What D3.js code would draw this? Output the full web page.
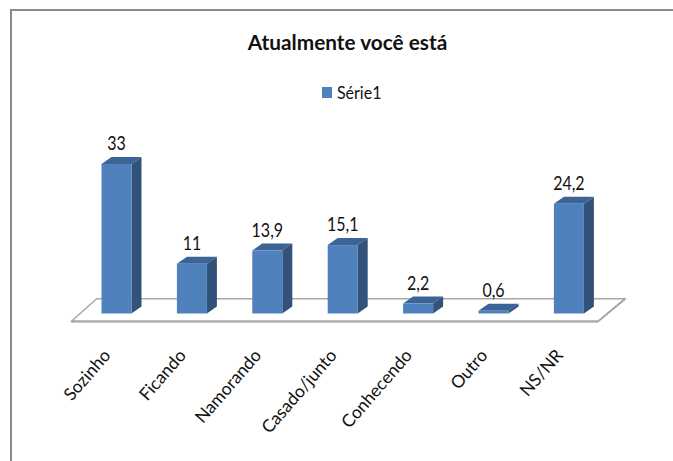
<!DOCTYPE html>
<html>
<head>
<meta charset="utf-8">
<script src="https://cdn.jsdelivr.net/npm/d3@7"></script>
<style>
  html, body { margin: 0; padding: 0; background: #fff; overflow: hidden; }
  text { font-family: Lato, "Open Sans", sans-serif; fill: #111; }
</style>
</head>
<body>
<div id="chart"></div>
<script>
// --- Data ---
const categories = ["Sozinho", "Ficando", "Namorando", "Casado/junto", "Conhecendo", "Outro", "NS/NR"];
const values = [33, 11, 13.9, 15.1, 2.2, 0.6, 24.2];
const valueLabels = ["33", "11", "13,9", "15,1", "2,2", "0,6", "24,2"];
const seriesName = "Série1";

const width = 673, height = 461;
const depthX = 10, depthY = -7;

const svg = d3.select("#chart").append("svg")
  .attr("width", width)
  .attr("height", height);

// chart frame, runs off the right and bottom of the picture
svg.append("rect")
  .attr("x", 11).attr("y", 10)
  .attr("width", 700).attr("height", 500)
  .attr("fill", "#fff")
  .attr("stroke", "#8a8a8a")
  .attr("stroke-width", 2);

// --- Scales ---
const x = d3.scaleBand()
  .domain(categories)
  .range([78.8, 606.6])
  .paddingInner(0.602)
  .paddingOuter(0.301);

const y = d3.scaleLinear().domain([0, 33]).range([313.5, 164]);

// --- Floor ---
const floor = [[71.7, 321], [598, 321], [625, 298.7], [96.7, 298.7]];
svg.append("path")
  .attr("d", d3.line()(floor) + "Z")
  .attr("transform", "translate(0,1)")
  .attr("fill", "none")
  .attr("stroke", "#8c8c8c")
  .attr("stroke-width", 1);
svg.append("path")
  .attr("d", d3.line()(floor) + "Z")
  .attr("fill", "#fff")
  .attr("stroke", "#a8a8a8")
  .attr("stroke-width", 1.5);

// --- Bars ---
const bars = svg.append("g").selectAll("g")
  .data(categories.map((c, i) => ({ c, v: values[i], label: valueLabels[i] })))
  .join("g");

const poly = pts => d3.line()(pts) + "Z";

// top
bars.append("path")
  .attr("fill", "#3c6595")
  .attr("d", d => {
    const x0 = x(d.c), x1 = x0 + x.bandwidth(), t = y(d.v);
    return poly([[x0, t], [x1, t], [x1 + depthX, t + depthY], [x0 + depthX, t + depthY]]);
  });
// side
bars.append("path")
  .attr("fill", "#325279")
  .attr("d", d => {
    const x1 = x(d.c) + x.bandwidth(), t = y(d.v), b = y(0);
    return poly([[x1, t], [x1 + depthX, t + depthY], [x1 + depthX, b + depthY], [x1, b]]);
  });
// front
bars.append("rect")
  .attr("fill", "#4f81bd")
  .attr("x", d => x(d.c))
  .attr("y", d => y(d.v))
  .attr("width", x.bandwidth())
  .attr("height", d => y(0) - y(d.v));

// value labels, the original text is tall and narrow
bars.append("text")
  .attr("transform", d => `translate(${x(d.c) + x.bandwidth() / 2},${y(d.v) - 14}) scale(1,1.2)`)
  .attr("text-anchor", "middle")
  .style("font-size", "16px")
  .text(d => d.label);

// --- Category axis ---
const axis = svg.append("g")
  .attr("transform", "translate(0,340)")
  .call(d3.axisBottom(x).tickSize(0));
axis.select(".domain").remove();
axis.selectAll("text")
  .attr("text-anchor", "end")
  .attr("x", 0).attr("y", 0).attr("dy", null)
  .attr("transform", "translate(-5,16) rotate(-49)")
  .style("font-family", "Lato, 'Open Sans', sans-serif")
  .style("font-size", "17.5px");

// --- Title ---
svg.append("text")
  .attr("transform", "translate(347.5,50)")
  .attr("text-anchor", "middle")
  .style("font-size", "20.8px")
  .style("font-weight", "bold")
  .text("Atualmente você está");

// --- Legend ---
svg.append("rect")
  .attr("x", 322).attr("y", 87)
  .attr("width", 10).attr("height", 11)
  .attr("fill", "#4f81bd");
svg.append("text")
  .attr("transform", "translate(337,98.5) scale(1,1.1)")
  .style("font-size", "16px")
  .text(seriesName);
</script>
</body>
</html>
